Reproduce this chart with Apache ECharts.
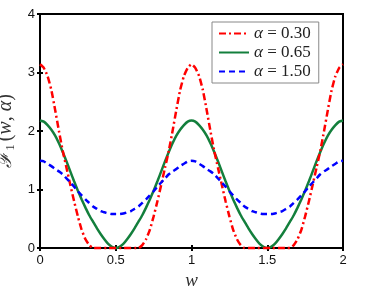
<!DOCTYPE html>
<html><head><meta charset="utf-8">
<script src="https://cdn.jsdelivr.net/npm/echarts@6/dist/echarts.min.js"></script>
<style>html,body{margin:0;padding:0;background:#fff}#c{width:374px;height:290px}</style>
</head><body><div id="c"></div>
<script>
const wValues = [0,0.025,0.05,0.075,0.1,0.125,0.15,0.175,0.2,0.225,0.25,0.275,0.3,0.325,0.35,0.375,0.4,0.425,0.45,0.475,0.5,
0.525,0.55,0.575,0.6,0.625,0.65,0.675,0.7,0.725,0.75,0.775,0.8,0.825,0.85,0.875,0.9,0.925,0.95,0.975,1,
1.025,1.05,1.075,1.1,1.125,1.15,1.175,1.2,1.225,1.25,1.275,1.3,1.325,1.35,1.375,1.4,1.425,1.45,1.475,1.5,
1.525,1.55,1.575,1.6,1.625,1.65,1.675,1.7,1.725,1.75,1.775,1.8,1.825,1.85,1.875,1.9,1.925,1.95,1.975,2];

const red030 = [3.14,3.08,2.94,2.70,2.36,2.00,1.66,1.37,1.08,0.80,0.54,0.31,0.15,0.05,0,0,0,0,0,0,0,
0,0,0,0,0,0,0.05,0.15,0.31,0.54,0.80,1.08,1.37,1.66,2.00,2.36,2.70,2.94,3.08,3.14,
3.08,2.94,2.70,2.36,2.00,1.66,1.37,1.08,0.80,0.54,0.31,0.15,0.05,0,0,0,0,0,0,0,
0,0,0,0,0,0,0.05,0.15,0.31,0.54,0.80,1.08,1.37,1.66,2.00,2.36,2.70,2.94,3.08,3.14];

const green065 = [2.18,2.16,2.10,2.02,1.92,1.79,1.64,1.48,1.31,1.14,0.98,0.83,0.69,0.56,0.45,0.34,0.24,0.15,0.07,0.02,0,
0.02,0.07,0.15,0.24,0.34,0.45,0.56,0.69,0.83,0.98,1.14,1.31,1.48,1.64,1.79,1.92,2.02,2.10,2.16,2.18,
2.16,2.10,2.02,1.92,1.79,1.64,1.48,1.31,1.14,0.98,0.83,0.69,0.56,0.45,0.34,0.24,0.15,0.07,0.02,0,
0.02,0.07,0.15,0.24,0.34,0.45,0.56,0.69,0.83,0.98,1.14,1.31,1.48,1.64,1.79,1.92,2.02,2.10,2.16,2.18];

const blue150 = [1.49,1.48,1.44,1.40,1.35,1.31,1.26,1.19,1.12,1.05,0.97,0.90,0.83,0.77,0.71,0.67,0.63,0.61,0.59,0.58,0.58,
0.58,0.59,0.61,0.63,0.67,0.71,0.77,0.83,0.90,0.97,1.05,1.12,1.19,1.26,1.31,1.35,1.40,1.44,1.48,1.49,
1.48,1.44,1.40,1.35,1.31,1.26,1.19,1.12,1.05,0.97,0.90,0.83,0.77,0.71,0.67,0.63,0.61,0.59,0.58,0.58,
0.58,0.59,0.61,0.63,0.67,0.71,0.77,0.83,0.90,0.97,1.05,1.12,1.19,1.26,1.31,1.35,1.40,1.44,1.48,1.49];

const seriesNames = ['α = 0.30','α = 0.65','α = 1.50'];
const xTicks = [0,0.5,1,1.5,2];
const yTicks = [0,1,2,3,4];

function pairs(ys){ return wValues.map((w,i)=>[w, ys[i]]); }

const chart = echarts.init(document.getElementById('c'), null, {renderer:'canvas'});
const serif = '"Liberation Serif","DejaVu Serif",serif';
const sans = '"Liberation Sans",Arial,sans-serif';
const tickLabel = {color:'#111', fontFamily:sans, fontSize:13};
chart.setOption({
  animation:false,
  backgroundColor:'#fff',
  grid:{left:40, right:31, top:14, bottom:42, containLabel:false, outerBoundsMode:'none',
        show:true, borderColor:'#000', borderWidth:2, backgroundColor:'transparent'},
  legend:{
    orient:'vertical', left:212, top:22,
    backgroundColor:'#fff', borderColor:'#888', borderWidth:1,
    padding:[3,8,3,6], itemGap:2, itemWidth:30, itemHeight:14,
    data:seriesNames,
    itemStyle:{opacity:0},
    textStyle:{fontFamily:serif, fontSize:17, color:'#222', rich:{
      a:{fontFamily:serif, fontStyle:'italic', fontSize:17, color:'#222'},
      b:{fontFamily:serif, fontSize:17, color:'#222'}}},
    formatter:function(n){ return '{a|α} {b|' + n.slice(2) + '}'; }
  },
  xAxis:[{
    type:'value', min:0, max:2, interval:0.5, position:'bottom',
    axisLine:{show:true, lineStyle:{color:'#000', width:2}},
    axisTick:{show:true, inside:true, length:3, lineStyle:{color:'#000', width:2}},
    axisLabel:Object.assign({margin:6, formatter:function(v){return xTicks.indexOf(v)>=0? String(v):'';}}, tickLabel),
    splitLine:{show:false},
    name:'w', nameLocation:'middle', nameGap:21,
    nameTextStyle:{fontFamily:serif, fontStyle:'italic', fontSize:19, color:'#333'}
  },{
    type:'value', min:0, max:2, interval:0.5, position:'top',
    axisLine:{show:true, lineStyle:{color:'#000', width:2}},
    axisTick:{show:true, inside:true, length:3, lineStyle:{color:'#000', width:2}},
    axisLabel:{show:false}, splitLine:{show:false}
  }],
  yAxis:[{
    type:'value', min:0, max:4, interval:1, position:'left',
    axisLine:{show:true, lineStyle:{color:'#000', width:2}},
    axisTick:{show:true, inside:true, length:3, lineStyle:{color:'#000', width:2}},
    axisLabel:Object.assign({margin:5, formatter:function(v){return yTicks.indexOf(v)>=0? String(v):'';}}, tickLabel),
    splitLine:{show:false},
    name:'{f|ℱ}{s|1}{p|(}{i|w}{p|, }{i|α}{p|)}', nameLocation:'middle', nameGap:22, nameRotate:90,
    nameTextStyle:{color:'#333', rich:{
      f:{fontFamily:'"DejaVu Serif",serif', fontStyle:'italic', fontSize:19, color:'#333'},
      s:{fontFamily:serif, fontSize:13, color:'#333', padding:[9,3,0,1]},
      p:{fontFamily:serif, fontSize:20, color:'#333'},
      i:{fontFamily:serif, fontStyle:'italic', fontSize:20, color:'#333'}
    }}
  },{
    type:'value', min:0, max:4, interval:1, position:'right',
    axisLine:{show:true, lineStyle:{color:'#000', width:2}},
    axisTick:{show:true, inside:true, length:3, lineStyle:{color:'#000', width:2}},
    axisLabel:{show:false}, splitLine:{show:false}
  }],
  series:[
    {name:seriesNames[0], type:'line', data:pairs(red030), showSymbol:false, symbol:'none', clip:false, smooth:0.15,
     itemStyle:{color:'#ff0000'}, lineStyle:{color:'#ff0000', width:2.5, type:[7,3,2,3]}, z:3},
    {name:seriesNames[1], type:'line', data:pairs(green065), showSymbol:false, symbol:'none', clip:false, smooth:0.15,
     itemStyle:{color:'#137f3c'}, lineStyle:{color:'#137f3c', width:2.5, type:'solid'}, z:2},
    {name:seriesNames[2], type:'line', data:pairs(blue150), showSymbol:false, symbol:'none', clip:false, smooth:0.15,
     itemStyle:{color:'#0000ff'}, lineStyle:{color:'#0000ff', width:2.5, type:[6,4]}, z:4}
  ]
});
</script></body></html>
